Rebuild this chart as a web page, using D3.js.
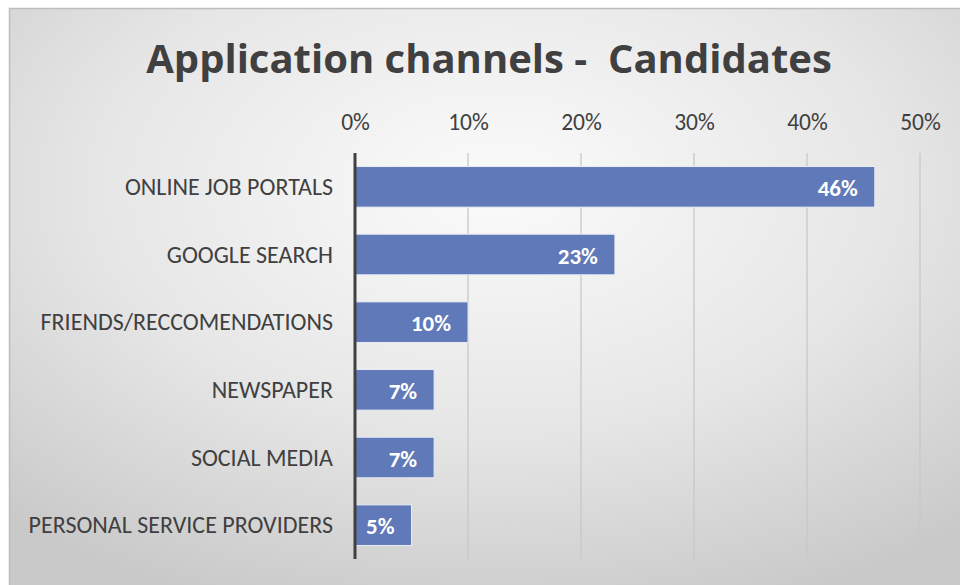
<!DOCTYPE html>
<html>
<head>
<meta charset="utf-8">
<script src="https://cdn.jsdelivr.net/npm/d3@7"></script>
<style>
  html, body { margin: 0; padding: 0; background: #ffffff; }
  svg { display: block; }
</style>
</head>
<body>
<svg id="chart" width="960" height="585"></svg>
<script>
// Share of candidates by application channel
const categories = [
  "ONLINE JOB PORTALS",
  "GOOGLE SEARCH",
  "FRIENDS/RECCOMENDATIONS",
  "NEWSPAPER",
  "SOCIAL MEDIA",
  "PERSONAL SERVICE PROVIDERS"
];
const shares = [46, 23, 10, 7, 7, 5];
const tickValues = [0, 10, 20, 30, 40, 50];
const titleText = "Application channels -  Candidates";

const svg = d3.select("#chart");
const W = 960, H = 585;
const font = "Carlito, Calibri, Lato, 'Open Sans', sans-serif";
const titleFont = "'Open Sans', Lato, sans-serif";

// Background: soft radial gradient panel with thin border
const defs = svg.append("defs");
const grad = defs.append("radialGradient")
  .attr("id", "bg").attr("cx", "50%").attr("cy", "30%").attr("r", "75%")
  .attr("gradientUnits", "objectBoundingBox");
grad.append("stop").attr("offset", "0%").attr("stop-color", "#fbfbfb");
grad.append("stop").attr("offset", "55%").attr("stop-color", "#e6e6e6");
grad.append("stop").attr("offset", "100%").attr("stop-color", "#c9c9c9");

svg.append("rect")
  .attr("x", 9.5).attr("y", 8.5).attr("width", W + 10).attr("height", H + 10)
  .attr("fill", "url(#bg)").attr("stroke", "#bdbdbd").attr("stroke-width", 1.5);

// Title
svg.append("text")
  .attr("x", 489).attr("y", 73)
  .attr("text-anchor", "middle")
  .attr("font-family", titleFont).attr("font-weight", "bold")
  .attr("font-size", 40).attr("fill", "#404040")
  .attr("xml:space", "preserve")
  .text(titleText);

// Plot area
const plot = { left: 355, right: 920, top: 153, bottom: 559 };

const x = d3.scaleLinear().domain([0, 50]).range([plot.left, plot.right]);
const y = d3.scaleBand().domain(categories).range([plot.top, plot.bottom])
  .paddingInner(0.4).paddingOuter(0.2);

// Vertical gridlines
svg.append("g").selectAll("line")
  .data(tickValues.filter(d => d > 0))
  .join("line")
  .attr("x1", d => x(d)).attr("x2", d => x(d))
  .attr("y1", plot.top).attr("y2", plot.bottom)
  .attr("stroke", "#c8c8c8").attr("stroke-width", 1.3);

// Top value axis
const xAxis = d3.axisTop(x).tickValues(tickValues).tickFormat(d => d + "%").tickSize(0).tickPadding(0);
const gx = svg.append("g").attr("transform", `translate(0, 129.5)`).call(xAxis);
gx.select(".domain").remove();
gx.selectAll("text")
  .attr("dy", 0)
  .attr("font-family", font).attr("font-size", 23.5).attr("fill", "#404040");

// Bars
const data = categories.map((c, i) => ({ c, v: shares[i] }));
svg.append("g").selectAll("rect")
  .data(data)
  .join("rect")
  .attr("x", x(0)).attr("y", d => y(d.c))
  .attr("width", d => x(d.v) - x(0)).attr("height", y.bandwidth())
  .attr("fill", "#6079b8").attr("stroke", "#e8ecf4").attr("stroke-width", 1);

// Value labels inside bar ends
svg.append("g").selectAll("text")
  .data(data)
  .join("text")
  .attr("x", d => x(d.v) - 17)
  .attr("y", d => y(d.c) + y.bandwidth() / 2 + 9)
  .attr("text-anchor", "end")
  .attr("font-family", font).attr("font-weight", "bold")
  .attr("font-size", 23).attr("fill", "#ffffff")
  .text(d => d.v + "%");

// Category axis
const yAxis = d3.axisLeft(y).tickSize(0).tickPadding(22);
const gy = svg.append("g").attr("transform", `translate(${plot.left}, 0)`).call(yAxis);
gy.select(".domain").remove();
gy.selectAll("text")
  .attr("dy", 0)
  .attr("transform", "translate(0, 8)")
  .attr("font-family", font).attr("font-size", 24).attr("fill", "#404040");

svg.append("line")
  .attr("x1", plot.left).attr("x2", plot.left)
  .attr("y1", plot.top).attr("y2", plot.bottom)
  .attr("stroke", "#404040").attr("stroke-width", 3);
</script>
</body>
</html>
